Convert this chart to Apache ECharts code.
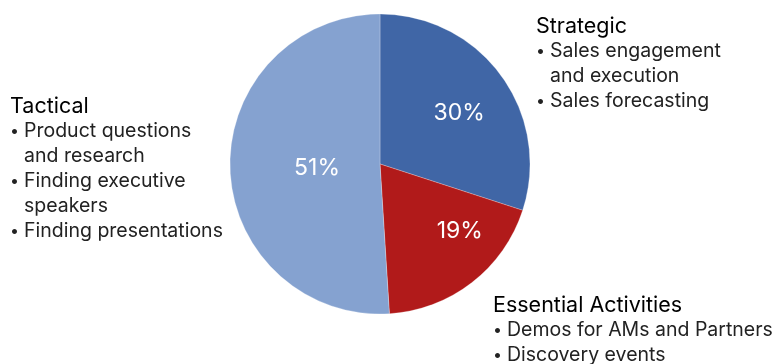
<!DOCTYPE html>
<html>
<head>
<meta charset="utf-8">
<script src="https://cdn.jsdelivr.net/npm/echarts@6/dist/echarts.min.js"></script>
<style>
html,body{margin:0;padding:0;background:#fff;}
#main{width:776px;height:364px;}
</style>
</head>
<body>
<div id="main"></div>
<script>
const categories = ['Strategic', 'Essential Activities', 'Tactical'];
const values = [30, 19, 51];
const sliceColors = ['#4066A6', '#B11A1A', '#85A2D0'];
const labelShift = [[16, -5], [32, 5], [15, 2]];
const strategicItems = [['Sales engagement', 'and execution'], ['Sales forecasting']];
const essentialItems = [['Demos for AMs and Partners'], ['Discovery events']];
const tacticalItems = [['Product questions', 'and research'], ['Finding executive', 'speakers'], ['Finding presentations']];

const FONT = 'Inter, "Liberation Sans", sans-serif';

function blockText(header, items) {
  const lines = ['{h|' + header + '}'];
  items.forEach(function (it) {
    it.forEach(function (ln, j) {
      lines.push((j === 0 ? '{b|•}' : '{i| }') + '{t|' + ln + '}');
    });
  });
  return lines.join('\n');
}
const rich = {
  h: {fontSize: 21.5, color: '#000', fontFamily: FONT, fontWeight: 'normal', lineHeight: 25},
  b: {fontSize: 16, color: '#222', fontFamily: FONT, fontWeight: 'normal', lineHeight: 25, width: 14},
  i: {fontSize: 19.5, color: '#222', fontFamily: FONT, fontWeight: 'normal', lineHeight: 25, width: 14},
  t: {fontSize: 19.5, color: '#222', fontFamily: FONT, fontWeight: 'normal', lineHeight: 25}
};
const titleStyle = {fontWeight: 'normal', fontFamily: FONT, rich: rich};

const chart = echarts.init(document.getElementById('main'), null, {renderer: 'canvas'});
chart.setOption({
  animation: false,
  backgroundColor: '#fff',
  title: [
    {text: blockText(categories[0], strategicItems), left: 536, top: 14, padding: 0, textStyle: titleStyle},
    {text: blockText(categories[1], essentialItems), left: 493, top: 293, padding: 0, textStyle: titleStyle},
    {text: blockText(categories[2], tacticalItems), left: 10, top: 94, padding: 0, textStyle: titleStyle}
  ],
  series: [{
    type: 'pie',
    center: [380, 164],
    radius: 150,
    startAngle: 90,
    clockwise: true,
    avoidLabelOverlap: false,
    label: {
      show: true,
      position: 'inside',
      color: '#fff',
      fontSize: 23,
      fontFamily: FONT,
      formatter: function (p) { return p.value + '%'; }
    },
    labelLine: {show: false},
    labelLayout: function (p) {
      const s = labelShift[p.dataIndex];
      return {dx: s[0], dy: s[1]};
    },
    itemStyle: {borderColor: 'rgba(255,255,255,0.5)', borderWidth: 0.5},
    emphasis: {disabled: true},
    data: categories.map(function (c, i) {
      return {name: c, value: values[i], itemStyle: {color: sliceColors[i]}};
    })
  }]
});
</script>
</body>
</html>
